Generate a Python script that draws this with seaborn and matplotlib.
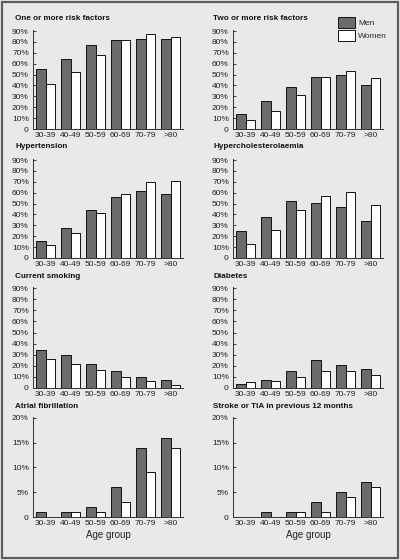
import numpy as np
import pandas as pd
import seaborn as sns
import matplotlib.pyplot as plt
from matplotlib.patches import Patch, Rectangle
from matplotlib.ticker import FixedLocator, FuncFormatter

sns.set_theme(style="white")
plt.rcParams['font.family'] = ['Liberation Sans', 'DejaVu Sans']

age_groups = ["30-39", "40-49", "50-59", "60-69", "70-79", ">80"]

men_one = [55, 64, 77, 82, 83, 83]
women_one = [41, 52, 68, 82, 87, 85]
men_two = [14, 26, 39, 48, 50, 40]
women_two = [8, 17, 31, 48, 53, 47]
men_htn = [16, 28, 44, 56, 62, 59]
women_htn = [12, 23, 41, 59, 70, 71]
men_chol = [25, 38, 52, 51, 47, 34]
women_chol = [13, 26, 44, 57, 61, 49]
men_smoke = [34, 30, 22, 15, 10, 7]
women_smoke = [26, 22, 16, 10, 6, 3]
men_diab = [4, 7, 15, 25, 21, 17]
women_diab = [5, 6, 10, 15, 15, 12]
men_af = [1, 1, 2, 6, 14, 16]
women_af = [0, 1, 1, 3, 9, 14]
men_stroke = [0, 1, 1, 3, 5, 7]
women_stroke = [0, 0, 1, 1, 4, 6]

titles = ["One or more risk factors", "Two or more risk factors",
          "Hypertension", "Hypercholesterolaemia",
          "Current smoking", "Diabetes",
          "Atrial fibrillation", "Stroke or TIA in previous 12 months"]
men_all = [men_one, men_two, men_htn, men_chol, men_smoke, men_diab, men_af, men_stroke]
women_all = [women_one, women_two, women_htn, women_chol, women_smoke, women_diab, women_af, women_stroke]

bg = "#e8eae9"
men_col = "#6b6b6b"

fig = plt.figure(figsize=(4, 5.6), dpi=100)
fig.patch.set_facecolor(bg)
fig.patches.append(Rectangle((0.004, 0.004), 0.992, 0.992, transform=fig.transFigure,
                             fill=False, edgecolor="#5f5f5f", linewidth=1.6))

# axes boxes in pixels: (top, bottom)
rows = [(30, 129), (159, 258), (287, 388), (417, 517)]
cols = [33, 233]
title_y = [18, 147, 277, 406]

for k in range(8):
    r, c = divmod(k, 2)
    top, bot = rows[r]
    left = cols[c]
    ax = fig.add_axes([left / 400, 1 - bot / 560, 150 / 400, (bot - top) / 560])
    ax.set_facecolor(bg)
    df = pd.DataFrame({"age": age_groups * 2,
                       "sex": ["Men"] * 6 + ["Women"] * 6,
                       "pct": men_all[k] + women_all[k]})
    sns.barplot(data=df, x="age", y="pct", hue="sex", order=age_groups,
                palette={"Men": men_col, "Women": "white"}, saturation=1,
                width=0.76, edgecolor="#111111", linewidth=0.7, ax=ax, legend=False)
    ax.set_xlim(-0.5, 5.5)
    if r < 3:
        ax.set_ylim(0, 91)
        ax.set_yticks(np.arange(0, 91, 10))
    else:
        ax.set_ylim(0, 20.2)
        ax.set_yticks(np.arange(0, 21, 5))
    ax.yaxis.set_major_formatter(FuncFormatter(lambda v, p: "0" if v == 0 else f"{v:.0f}%"))
    ax.xaxis.set_minor_locator(FixedLocator(np.arange(-0.5, 6, 1)))
    ax.tick_params(axis="x", which="major", length=0, labelsize=6, pad=2.5, colors="#222222")
    ax.tick_params(axis="x", which="minor", length=2, direction="in", width=0.6, color="#333333")
    ax.tick_params(axis="y", which="major", length=2.5, direction="in", width=0.6,
                   labelsize=6, pad=3, colors="#222222")
    ax.tick_params(axis="both", bottom=True, left=True)
    for side in ["top", "right"]:
        ax.spines[side].set_visible(False)
    for side in ["left", "bottom"]:
        ax.spines[side].set_color("#333333")
        ax.spines[side].set_linewidth(0.7)
    ax.set_ylabel("")
    if r == 3:
        ax.set_xlabel("Age group", fontsize=7, labelpad=2, color="#222222")
    else:
        ax.set_xlabel("")
    fig.text((15 if c == 0 else 213) / 400, 1 - title_y[r] / 560, titles[k],
             fontsize=5.9, fontweight="bold", ha="left", va="center", color="#111111")

handles = [Patch(facecolor=men_col, edgecolor="#111111", linewidth=0.7, label="Men"),
           Patch(facecolor="white", edgecolor="#111111", linewidth=0.7, label="Women")]
fig.legend(handles=handles, loc="upper left", bbox_to_anchor=(335 / 400, 1 - 14 / 560),
           frameon=False, fontsize=6, handlelength=2.0, handleheight=1.5,
           labelspacing=0.35, handletextpad=0.4, borderaxespad=0)

fig.savefig("out.png", dpi=100, facecolor=bg)
